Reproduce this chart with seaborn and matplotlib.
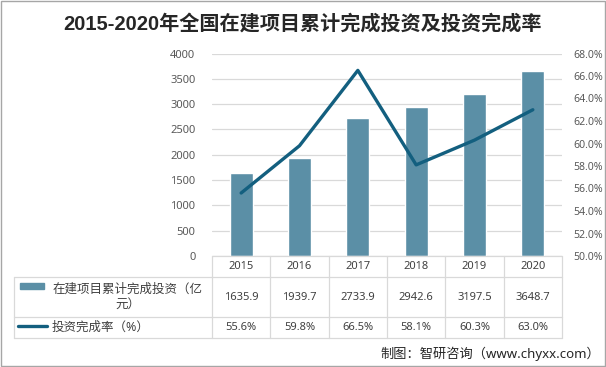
# 2015-2020 construction projects: cumulative investment & completion rate
import numpy as np
import pandas as pd
import matplotlib
matplotlib.use("Agg")
import matplotlib.pyplot as plt
import matplotlib.transforms as mtransforms
from matplotlib.lines import Line2D
from matplotlib.patches import Rectangle
import seaborn as sns

years = ["2015", "2016", "2017", "2018", "2019", "2020"]
investment = [1635.9, 1939.7, 2733.9, 2942.6, 3197.5, 3648.7]
rate = [55.6, 59.8, 66.5, 58.1, 60.3, 63.0]
investment_labels = ["1635.9", "1939.7", "2733.9", "2942.6", "3197.5", "3648.7"]
rate_labels = ["55.6%", "59.8%", "66.5%", "58.1%", "60.3%", "63.0%"]

bar_name = "在建项目累计完成投资（亿\n元）"
line_name = "投资完成率（%）"
title = "2015-2020年全国在建项目累计完成投资及投资完成率"
source = "制图：智研咨询（www.chyxx.com）"

sns.set_style("white")
plt.rcParams["font.family"] = ["Noto Sans", "Noto Sans CJK SC", "DejaVu Sans"]

bar_color = "#5b8fa6"
line_color = "#135f7f"
grid_color = "#d9d9d9"
text_color = "#404040"

W, H = 606, 367
fig = plt.figure(figsize=(W / 100, H / 100), dpi=100)

def fx(px):
    return px / W

def fy(py):
    return 1 - py / H

ax = fig.add_axes([fx(212), fy(256), fx(562) - fx(212), fy(53.5) - fy(256)])
df = pd.DataFrame({"year": years, "investment": investment})
sns.barplot(data=df, x="year", y="investment", color=bar_color, width=0.39,
            saturation=1, ax=ax)
ax.set_xlim(-0.5, len(years) - 0.5)
ax.set_ylim(0, 4000)
ax.set_yticks(np.arange(0, 4001, 500))
ax.set_xticks([])
ax.set_xlabel("")
ax.set_ylabel("")
ax.yaxis.grid(True, color=grid_color, linewidth=0.9)
ax.set_axisbelow(True)
for s in ax.spines.values():
    s.set_visible(False)
ax.tick_params(axis="y", length=0, pad=12, labelsize=8, labelcolor="#595959")

ax2 = ax.twinx()
sns.lineplot(x=np.arange(len(years)), y=rate, color=line_color, linewidth=2.4, ax=ax2)
ax2.set_ylim(50, 68)
ax2.set_yticks(np.arange(50, 68.1, 2))
ax2.set_yticklabels([f"{v:.1f}%" for v in np.arange(50, 68.1, 2)])
for s in ax2.spines.values():
    s.set_visible(False)
ax2.tick_params(axis="y", length=0, pad=8, labelsize=7.6, labelcolor="#595959")
ax2.set_xlim(-0.5, len(years) - 0.5)

# data table under the chart
tr = mtransforms.blended_transform_factory(ax.transData, fig.transFigure)
y_top, y_r1, y_r2, y_bot = fy(256), fy(277), fy(317), fy(338)
lw = 0.9
# horizontal lines
fig.add_artist(Line2D([fx(212), fx(562)], [y_top, y_top], color=grid_color, lw=lw))
for yy in (y_r1, y_r2, y_bot):
    fig.add_artist(Line2D([fx(14), fx(562)], [yy, yy], color=grid_color, lw=lw))
# vertical lines
fig.add_artist(Line2D([fx(14), fx(14)], [y_r1, y_bot], color=grid_color, lw=lw))
for i in range(len(years) + 1):
    ax.add_artist(Line2D([i - 0.5, i - 0.5], [y_top, y_bot], color=grid_color,
                         lw=lw, transform=tr, clip_on=False))
for i, y in enumerate(years):
    ax.text(i, (y_top + y_r1) / 2, y, transform=tr, ha="center", va="center",
            fontsize=8, color=text_color)
    ax.text(i, (y_r1 + y_r2) / 2, investment_labels[i], transform=tr, ha="center",
            va="center", fontsize=8, color=text_color)
    ax.text(i, (y_r2 + y_bot) / 2, rate_labels[i], transform=tr, ha="center",
            va="center", fontsize=8, color=text_color)

# legend keys in the table
fig.add_artist(Rectangle((fx(20), fy(289)), fx(24), fy(283) - fy(289),
                         color=bar_color, transform=fig.transFigure))
fig.text(fx(128), (y_r1 + y_r2) / 2, bar_name, ha="center", va="center",
         fontsize=9, color=text_color, linespacing=1.2)
fig.add_artist(Line2D([fx(18), fx(47)], [fy(326), fy(326)], color=line_color, lw=2.4))
fig.text(fx(52), (y_r2 + y_bot) / 2, line_name, ha="left", va="center",
         fontsize=9, color=text_color)

fig.text(fx(302), fy(24), title, ha="center", va="center", fontsize=14.5,
         fontweight="bold", color="#262626",
         family=["Liberation Sans", "Noto Sans CJK SC", "DejaVu Sans"])
fig.text(fx(600), fy(354), source, ha="right", va="center", fontsize=9.5,
         color="#262626")

# outer frame
fig.add_artist(Rectangle((0.001, 0.002), 0.997, 0.996, fill=False,
                         edgecolor="#a6a6a6", lw=1, transform=fig.transFigure))

fig.savefig("out.png", dpi=100)
